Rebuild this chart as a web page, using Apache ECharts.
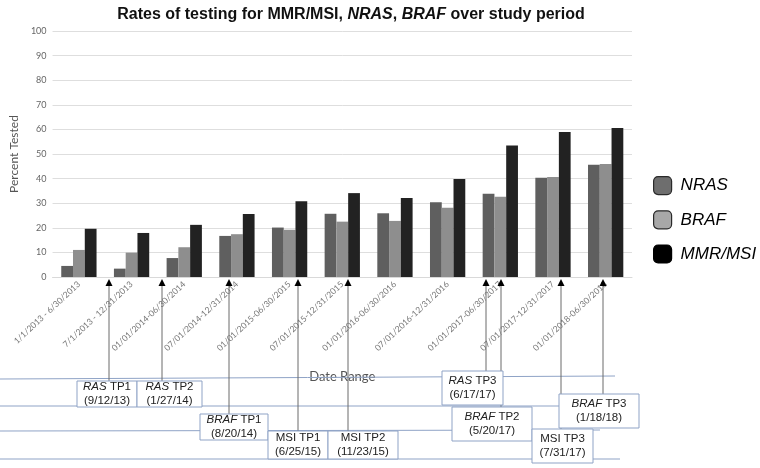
<!DOCTYPE html>
<html><head><meta charset="utf-8">
<script src="https://cdn.jsdelivr.net/npm/echarts@6/dist/echarts.min.js"></script>
<style>html,body{margin:0;padding:0;background:#fff}#c{width:760px;height:468px}</style>
</head><body><div id="c"></div>
<script>
const categories = ['1/1/2013 - 6/30/2013','7/1/2013 - 12/31/2013','01/01/2014-06/30/2014','07/01/2014-12/31/2014','01/01/2015-06/30/2015','07/01/2015-12/31/2015','01/01/2016-06/30/2016','07/01/2016-12/31/2016','01/01/2017-06/30/2017','07/01/2017-12/31/2017','01/01/2018-06/30/2018'];
const nras = [4.5, 3.4, 7.7, 16.7, 20.1, 25.7, 25.9, 30.4, 33.8, 40.3, 45.6];
const braf = [11.0, 9.9, 12.1, 17.4, 19.2, 22.5, 22.8, 28.1, 32.6, 40.7, 45.9];
const mmr = [19.6, 17.9, 21.2, 25.6, 30.8, 34.1, 32.1, 39.8, 53.5, 58.9, 60.6];
const yTicks = [0,10,20,30,40,50,60,70,80,90,100];
const seriesNames = ['NRAS','BRAF','MMR/MSI'];
const annoGene = ['RAS','RAS','BRAF','MSI','MSI','RAS','BRAF','MSI','BRAF'];
const annoTP = ['TP1','TP2','TP1','TP1','TP2','TP3','TP2','TP3','TP3'];
const annoDates = ['9/12/13','1/27/14','8/20/14','6/25/15','11/23/15','6/17/17','5/20/17','7/31/17','1/18/18'];
const annoItalic = [true,true,true,false,false,true,true,false,true];

// layout of annotation boxes: [x, y, w, h, arrowX]
const annoLayout = [
  [77,381,60,26,109],[137,381,65,26,162],[200,414,68,26,229],[268,431,60,28,298],[328,431,70,28,348],
  [442,371,61,34,486],[452,407,80,34,501],[532,429,61,34,561],[559,394,80,34,603]
];
const hLines = [[0,379,615,376],[0,406,560,406],[0,431,600,430],[0,459,620,459]];

const chart = echarts.init(document.getElementById('c'));
const boxColor = '#8fa3c6';
const graphics = [];
hLines.forEach(l => graphics.push({type:'line', z:1, shape:{x1:l[0],y1:l[1],x2:l[2],y2:l[3]}, style:{stroke:boxColor, lineWidth:1}}));
annoLayout.forEach(a => {
  graphics.push({type:'line', z:2, shape:{x1:a[4],y1:285,x2:a[4],y2:a[1]}, style:{stroke:'#6a6a6a', lineWidth:1}});
  graphics.push({type:'polygon', z:3, shape:{points:[[a[4],279],[a[4]-3.5,286],[a[4]+3.5,286]]}, style:{fill:'#000'}});
});
annoLayout.forEach((a,i) => {
  graphics.push({type:'rect', z:4, shape:{x:a[0],y:a[1],width:a[2],height:a[3]}, style:{fill:'#fff', stroke:boxColor, lineWidth:1}});
  const first = annoItalic[i] ? '{i|' + annoGene[i] + '} ' + annoTP[i] : annoGene[i] + ' ' + annoTP[i];
  graphics.push({type:'text', z:5, x:a[0]+a[2]/2, y:a[1]+a[3]/2, style:{
    text: first + '\n(' + annoDates[i] + ')', align:'center', verticalAlign:'middle',
    fontFamily:'Liberation Sans, Arial', fontSize:11.5, lineHeight:14, fill:'#222',
    rich:{i:{fontStyle:'italic', fontFamily:'Liberation Sans, Arial', fontSize:11.5, lineHeight:14, fill:'#222'}}
  }});
});

chart.setOption({
  animation:false,
  title:{
    text:'{n|Rates of testing for MMR/MSI, }{i|NRAS}{n|, }{i|BRAF}{n| over study period}',
    left:346, top:2, textAlign:'center',
    textStyle:{rich:{
      n:{fontFamily:'Liberation Sans, Arial', fontWeight:'bold', fontSize:16, color:'#111'},
      i:{fontFamily:'Liberation Sans, Arial', fontWeight:'bold', fontStyle:'italic', fontSize:16, color:'#111'}
    }}
  },
  legend:{
    orient:'vertical', left:648, top:171, itemWidth:18, itemHeight:18, itemGap:15,
    icon:'roundRect', selectedMode:false,
    textStyle:{fontFamily:'Liberation Sans, Arial', fontStyle:'italic', fontSize:17, color:'#000', padding:[0,0,0,4]},
    data:[
      {name:seriesNames[0], itemStyle:{color:'#6e6e6e', borderColor:'#2a2a2a', borderWidth:1.2}},
      {name:seriesNames[1], itemStyle:{color:'#a8a8a8', borderColor:'#2a2a2a', borderWidth:1.2}},
      {name:seriesNames[2], itemStyle:{color:'#000', borderColor:'#000', borderWidth:1.2}}
    ]
  },
  grid:{left:42, right:128, top:31, bottom:191, containLabel:false},
  xAxis:{
    type:'category', data:categories,
    name:'Date Range', nameLocation:'middle', nameGap:93,
    nameTextStyle:{fontFamily:'Lato', fontSize:13, color:'#555'},
    axisLine:{show:true, lineStyle:{color:'#d9d9d9'}}, axisTick:{show:false},
    axisLabel:{rotate:43, fontSize:8.5, color:'#777', fontFamily:'Lato', margin:6, interval:0}
  },
  yAxis:{
    type:'value', min:0, max:100, interval:10,
    name:'Percent Tested', nameLocation:'middle', nameGap:29,
    nameTextStyle:{fontFamily:'Lato', fontSize:12, color:'#555'},
    axisLine:{show:false}, axisTick:{show:false},
    axisLabel:{fontSize:9, color:'#666', fontFamily:'Lato', margin:6, formatter:v => yTicks.includes(v) ? String(v) : ''},
    splitLine:{lineStyle:{color:'#dedede', width:1}}
  },
  series:[
    {name:seriesNames[0], type:'bar', data:nras, barGap:'0%', barCategoryGap:'33%', itemStyle:{color:'#5f5f5f'}},
    {name:seriesNames[1], type:'bar', data:braf, barGap:'0%', barCategoryGap:'33%', itemStyle:{color:'#8e8e8e'}},
    {name:seriesNames[2], type:'bar', data:mmr, barGap:'0%', barCategoryGap:'33%', itemStyle:{color:'#222222'}}
  ],
  graphic:graphics
});
</script></body></html>
